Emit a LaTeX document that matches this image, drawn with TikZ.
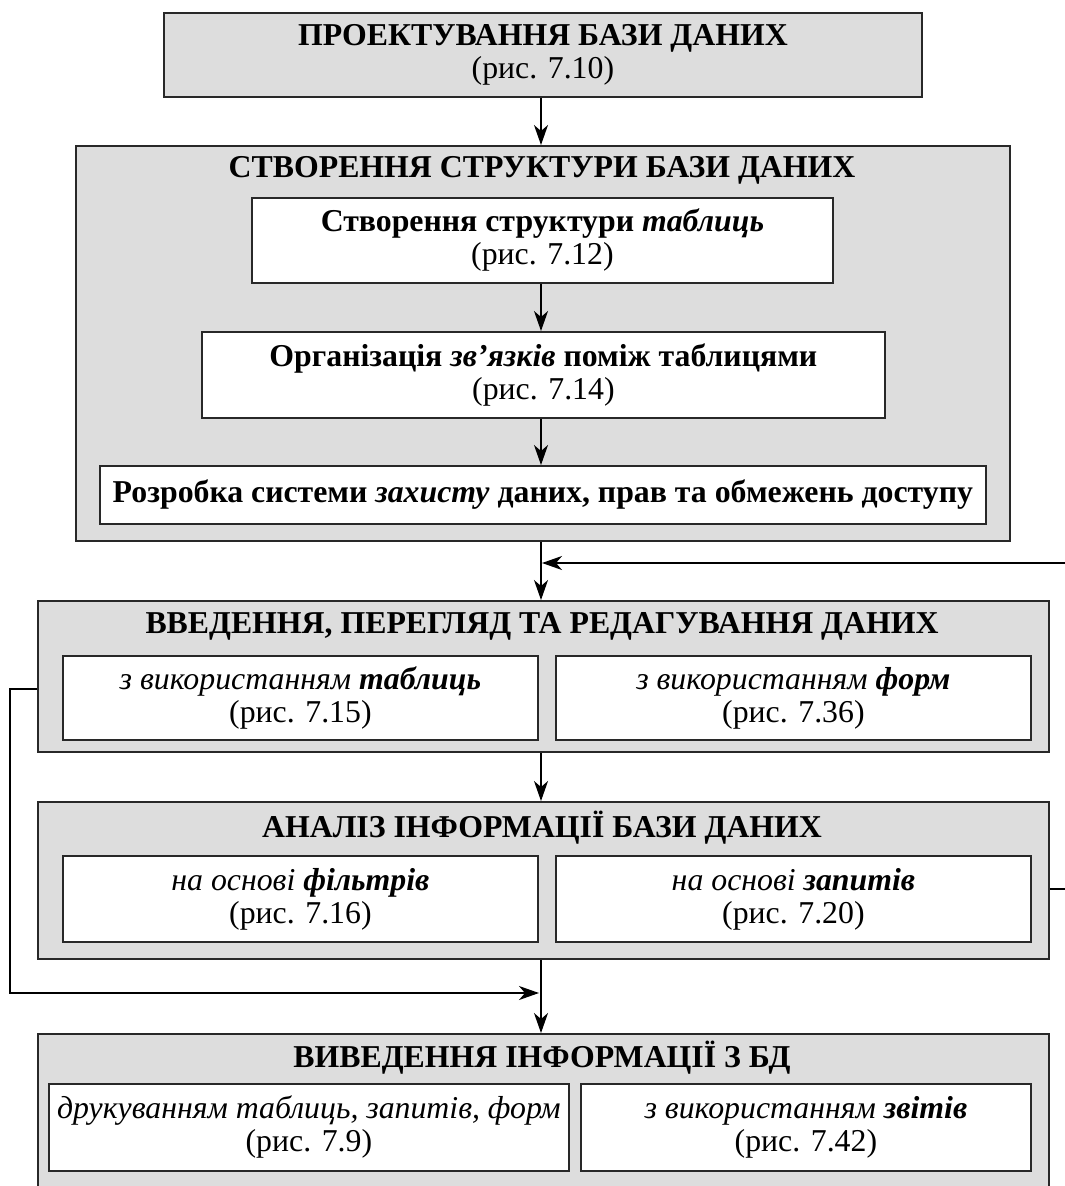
\documentclass[tikz,border=0pt]{standalone}
\usepackage{fontspec}
\setmainfont{Liberation Serif}
\usetikzlibrary{arrows.meta}
\definecolor{boxgray}{RGB}{221,221,221}
\definecolor{edge}{RGB}{40,40,40}
\begin{document}
\begin{tikzpicture}[x=1pt,y=-1pt,
  txt/.style={font=\fontsize{31.8}{33}\selectfont, align=center},
  graybox/.style={draw=edge, line width=1.8pt, fill=boxgray, anchor=north west, inner sep=0pt, txt},
  whitebox/.style={draw=edge, line width=1.8pt, fill=white, anchor=north west, inner sep=0pt, txt},
  title/.style={txt, font=\fontsize{31.8}{33}\selectfont\bfseries, inner sep=0pt},
  conn/.style={line width=1.3pt, draw=black},
  arr/.style={conn, -{Stealth[length=20pt,width=14pt,inset=6pt]}}
]
\useasboundingbox (0,0) rectangle (1065,1186);
\clip (0,0) rectangle (1065,1186);
\fill[white] (0,0) rectangle (1065,1186);

% Box 1
\node[graybox, minimum width=758pt, minimum height=84pt] (proj) at (163,12)
  {\textbf{ПРОЕКТУВАННЯ БАЗИ ДАНИХ}\\(рис. 7.10)};

% Box 2
\node[graybox, minimum width=934pt, minimum height=395pt] (struct) at (75,145) {};
\node[title] (structt) at (542,170) {СТВОРЕННЯ СТРУКТУРИ БАЗИ ДАНИХ};
\node[whitebox, minimum width=581pt, minimum height=85pt] (tabl) at (251,197)
  {\textbf{Створення структури \textit{таблиць}}\\(рис. 7.12)};
\node[whitebox, minimum width=683pt, minimum height=86pt] (links) at (201,331)
  {\textbf{Організація \textit{зв’язків} поміж таблицями}\\(рис. 7.14)};
\node[whitebox, minimum width=886pt, minimum height=58pt] (prot) at (99,465)
  {\textbf{Розробка системи \textit{захисту} даних, прав та обмежень доступу}};

% Box 3
\node[graybox, minimum width=1011pt, minimum height=151pt] (input) at (37,600) {};
\node[title] (inputt) at (542,626) {ВВЕДЕННЯ, ПЕРЕГЛЯД ТА РЕДАГУВАННЯ ДАНИХ};
\node[whitebox, minimum width=475pt, minimum height=84pt] (inA) at (62,655)
  {\textit{з використанням \textbf{таблиць}}\\(рис. 7.15)};
\node[whitebox, minimum width=475pt, minimum height=84pt] (inB) at (555,655)
  {\textit{з використанням \textbf{форм}}\\(рис. 7.36)};

% Box 4
\node[graybox, minimum width=1011pt, minimum height=157pt] (anal) at (37,801) {};
\node[title] (analt) at (542,828) {АНАЛІЗ ІНФОРМАЦІЇ БАЗИ ДАНИХ};
\node[whitebox, minimum width=475pt, minimum height=86pt] (anA) at (62,855)
  {\textit{на основі \textbf{фільтрів}}\\(рис. 7.16)};
\node[whitebox, minimum width=475pt, minimum height=86pt] (anB) at (555,855)
  {\textit{на основі \textbf{запитів}}\\(рис. 7.20)};

% Box 5
\node[graybox, minimum width=1011pt, minimum height=200pt] (outp) at (37,1033) {};
\node[title] (outpt) at (542,1058) {ВИВЕДЕННЯ ІНФОРМАЦІЇ З БД};
\node[whitebox, minimum width=520pt, minimum height=87pt] (ouA) at (48,1083)
  {\textit{друкуванням таблиць, запитів, форм}\\(рис. 7.9)};
\node[whitebox, minimum width=450pt, minimum height=87pt] (ouB) at (580,1083)
  {\textit{з використанням \textbf{звітів}}\\(рис. 7.42)};

% connectors
\coordinate (j1) at (541,563);
\coordinate (j2) at (541,993);
\draw[arr] (proj.south -| j1) -- (struct.north -| j1);
\draw[arr] (tabl.south -| j1) -- (links.north -| j1);
\draw[arr] (links.south -| j1) -- (prot.north -| j1);
\draw[arr] (struct.south -| j1) -- (input.north -| j1);
\draw[arr] (input.south -| j1) -- (anal.north -| j1);
\draw[arr] (anal.south -| j1) -- (outp.north -| j1);

\coordinate (lf1) at (10,689);
\coordinate (lf2) at (10,993);
\draw[arr] (input.west |- lf1) -- (lf1) -- (lf2) -- ([xshift=-2pt]j2);

\coordinate (rf1) at (1085,889);
\coordinate (rf2) at (1085,563);
\draw[arr] (anal.east |- rf1) -- (rf1) -- (rf2) -- ([xshift=1pt]j1);
\end{tikzpicture}
\end{document}
